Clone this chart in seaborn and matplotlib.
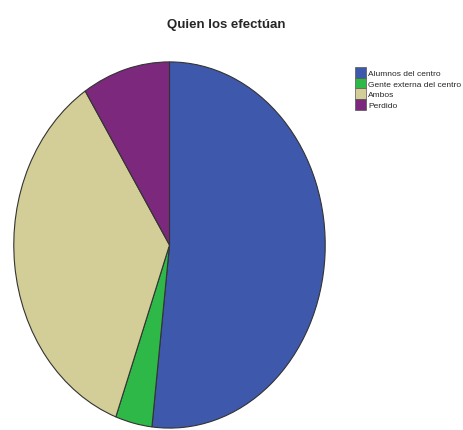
import matplotlib
matplotlib.use("Agg")
from matplotlib import pyplot as plt
from matplotlib.patches import Patch
import seaborn

seaborn.set_style("white")
plt.rcParams['font.family'] = ['Liberation Sans', 'DejaVu Sans']

# categories and shares (percent)
categorias = ["Alumnos del centro", "Gente externa del centro", "Ambos", "Perdido"]
porcentajes = [51.8, 3.8, 35.3, 9.1]
colores = ["#3E58AC", "#2EB848", "#D3CE97", "#7C287D"]

W, H = 464, 431
fig = plt.figure(figsize=(W / 100, H / 100), dpi=100)

# pie drawn in a non-square axes so it comes out as an ellipse, like the original
ax = fig.add_axes([13 / W, 1 / H, 313 / W, 368 / H])
ax.pie(porcentajes, colors=colores, startangle=90, counterclock=False,
       radius=1, wedgeprops=dict(edgecolor="#333333", linewidth=0.8))
ax.set_aspect("auto")
ax.set_xlim(-1.005, 1.005)
ax.set_ylim(-1.005, 1.005)
ax.axis("off")

fig.text(226 / W, 1 - 25 / H, "Quien los efectúan", ha="center", va="center",
         fontsize=9.5, fontweight="bold")

handles = [Patch(facecolor=c, edgecolor="#555555", linewidth=0.5) for c in colores]
fig.legend(handles, categorias, loc="upper left", bbox_to_anchor=(349 / W, 1 - 62 / H),
           frameon=False, fontsize=6, handlelength=1.3, handleheight=1.6,
           handletextpad=0.3, labelspacing=0.0, borderpad=0.2)

fig.savefig("out.png", dpi=100)
